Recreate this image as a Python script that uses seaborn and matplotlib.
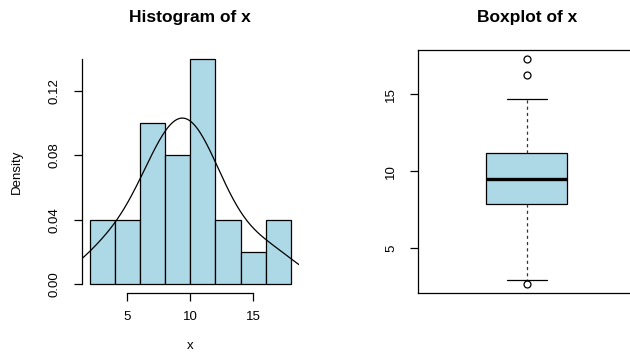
import matplotlib
matplotlib.use("Agg")
import matplotlib.pyplot as plt
import seaborn as sns

x = [2.65, 2.88, 5.1, 5.8, 6.4, 7.1, 7.85, 7.92, 7.97, 8.4, 8.8, 9.1, 9.46,
     10.05, 10.15, 10.3, 10.5, 10.8, 11.2, 11.5, 12.4, 13.2, 14.7, 16.25, 17.3]
bin_edges = [2, 4, 6, 8, 10, 12, 14, 16, 18]
hist_xticks = [5, 10, 15]
hist_yticks = [0.00, 0.04, 0.08, 0.12]
hist_ylabels = ["0.00", "0.04", "0.08", "0.12"]
box_yticks = [5, 10, 15]

sns.set_style("ticks")
plt.rcParams["font.family"] = ["Liberation Sans", "DejaVu Sans"]
plt.rcParams["text.color"] = "black"
plt.rcParams["axes.labelcolor"] = "black"
plt.rcParams["xtick.color"] = "black"
plt.rcParams["ytick.color"] = "black"

W, H = 630, 352
fig = plt.figure(figsize=(W / 100, H / 100), dpi=100)
ax1 = fig.add_axes([81.6 / W, 1 - 293 / H, 217.4 / W, 243 / H])
ax2 = fig.add_axes([418 / W, 1 - 293 / H, 217.4 / W, 243 / H])

# --- histogram + density ---
sns.histplot(x=x, bins=bin_edges, stat="density", color="#ADD8E6", alpha=1,
             edgecolor="black", linewidth=0.9, ax=ax1)
sns.kdeplot(x=x, bw_adjust=1.15, cut=3, color="black", linewidth=0.9, ax=ax1)
ax1.set_xlim(1.36, 18.64)
ax1.set_ylim(-0.0056, 0.1456)
ax1.set_xticks(hist_xticks)
ax1.set_yticks(hist_yticks)
ax1.set_yticklabels(hist_ylabels)
for s in ["top", "right"]:
    ax1.spines[s].set_visible(False)
ax1.spines["left"].set_bounds(0, 0.14)
ax1.spines["bottom"].set_bounds(5, 15)
ax1.set_title("Histogram of x", fontsize=12.5, fontweight="bold", pad=20.5)
ax1.set_xlabel("x", fontsize=9.5, labelpad=12.5)
ax1.set_ylabel("Density", fontsize=9.5, labelpad=19)

# --- boxplot ---
sns.boxplot(y=x, ax=ax2, width=0.37, color="#ADD8E6", saturation=1,
            linecolor="black", linewidth=0.9, fliersize=5,
            whiskerprops=dict(linestyle=(0, (2.5, 2.5)), color="#333333"),
            medianprops=dict(linewidth=2.4),
            flierprops=dict(marker="o", markerfacecolor="none",
                            markeredgecolor="black", markeredgewidth=0.9))
ax2.set_xlim(-0.5, 0.5)
ax2.set_ylim(2.06, 17.89)
ax2.set_xticks([])
ax2.set_yticks(box_yticks)
ax2.set_xlabel("")
ax2.set_ylabel("")
ax2.set_title("Boxplot of x", fontsize=12.5, fontweight="bold", pad=20.5)

for ax in (ax1, ax2):
    for sp in ax.spines.values():
        sp.set_linewidth(0.9)
        sp.set_color("black")
    ax.tick_params(length=6, width=0.9, labelsize=9.5, color="black")
    ax.tick_params(axis="x", pad=7)
    ax.tick_params(axis="y", labelrotation=90, pad=9)
    for lab in ax.get_yticklabels():
        lab.set_va("center")

fig.savefig("out.png", dpi=100)
